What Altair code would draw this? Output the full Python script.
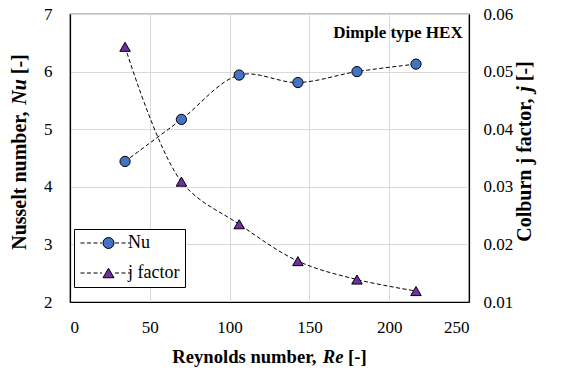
import altair as alt
import pandas as pd

# ---- data ----
re_vals = [34.5, 69.8, 106.0, 142.8, 179.8, 216.8]
nu_vals = [4.44, 5.17, 5.94, 5.81, 6.00, 6.13]
j_vals = [0.0543, 0.0309, 0.0235, 0.0171, 0.0139, 0.0119]
series_names = ["Nu", "j factor"]
series_colors = ["#4472C4", "#7030A0"]
x_ticks = [0, 50, 100, 150, 200, 250]
nu_ticks = [2, 3, 4, 5, 6, 7]
j_ticks = [0.01, 0.02, 0.03, 0.04, 0.05, 0.06]

# axis titles as (text, italic) pieces
x_title = [("Reynolds number,", False), ("Re", True), ("[-]", False)]
y_title = [("Nusselt number,", False), ("Nu", True), ("[-]", False)]
y2_title = [("Colburn j factor,", False), ("j", True), ("[-]", False)]
note_text = "Dimple type HEX"

df_nu = pd.DataFrame({"Re": re_vals, "Nu": nu_vals})
df_j = pd.DataFrame({"Re": re_vals, "j": j_vals})
df_leg = pd.DataFrame({"series": series_names})

FONT = "Liberation Serif"
W, H = 399, 288

# Times/Liberation Serif bold advance widths (per 1000 em)
BOLD = {" ": 250, ",": 250, "-": 333, "[": 333, "]": 333, "a": 500, "b": 556,
        "c": 444, "d": 556, "e": 444, "f": 333, "i": 278, "j": 333, "l": 278,
        "m": 833, "n": 556, "o": 500, "r": 444, "s": 389, "t": 333, "u": 556,
        "y": 500, "C": 722, "N": 722, "R": 722}
BOLD_IT = {"N": 722, "u": 556, "R": 667, "e": 444, "j": 278}


def text_w(s, italic, size):
    tbl = BOLD_IT if italic else BOLD
    return sum(tbl.get(ch, 500) for ch in s) / 1000 * size


def title_layers(pieces, size, fixed, center, vertical):
    """Build text marks for a multi-style title. For vertical titles the
    text runs upward (angle 270) and `fixed` is the baseline x."""
    space = BOLD[" "] / 1000 * size
    widths = [text_w(t, it, size) for t, it in pieces]
    total = sum(widths) + space * (len(pieces) - 1)
    pos = center + total / 2 if vertical else center - total / 2
    out = []
    for (t, it), w in zip(pieces, widths):
        df = pd.DataFrame({"t": [t]})
        kw = dict(font=FONT, fontSize=size, fontWeight="bold", color="black",
                  align="left", baseline="alphabetic")
        if it:
            kw["fontStyle"] = "italic"
        if vertical:
            kw["angle"] = 270
            enc = dict(x=alt.value(fixed), y=alt.value(pos))
            pos -= w + space
        else:
            enc = dict(x=alt.value(pos), y=alt.value(fixed))
            pos += w + space
        out.append(alt.Chart(df).mark_text(**kw).encode(text="t:N", **enc))
    return out


# ---- legend symbol paths: dashed line + marker (units: 5.5 px) ----
U = 5.5


def dashes(a, b, d=4.0, g=2.5):
    out = []
    p = a
    while p < b - 0.5:
        q = min(p + d, b)
        out.append(f"M{p / U:.3f},0H{q / U:.3f}")
        p = q + g
    return "".join(out)


cx = 20.5  # marker centre (px from symbol origin)
line_part = dashes(-7.5, cx - U - 1) + dashes(cx + U + 1, 42.5)
c = cx / U
circle_path = line_part + f"M{c + 1:.3f},0A1,1,0,1,1,{c - 1:.3f},0A1,1,0,1,1,{c + 1:.3f},0Z"
tri_path = line_part + f"M{c:.3f},-0.866L{c + 1:.3f},0.866L{c - 1:.3f},0.866Z"

x_enc = alt.X(
    "Re:Q",
    scale=alt.Scale(domain=[0, 250], nice=False),
    axis=alt.Axis(values=x_ticks, title=None, labelPadding=17, labelFont=FONT),
)

nu_line = alt.Chart(df_nu).mark_line(
    color="black", strokeWidth=1, strokeDash=[4, 2.5], interpolate="catmull-rom"
).encode(
    x=x_enc,
    y=alt.Y(
        "Nu:Q",
        scale=alt.Scale(domain=[2, 7], nice=False),
        axis=alt.Axis(values=nu_ticks, format="d", title=None, labelPadding=18,
                      labelFont=FONT, grid=True),
    ),
)
nu_pts = alt.Chart(df_nu).mark_point(
    shape="circle", filled=True, fill=series_colors[0], stroke="black",
    strokeWidth=1, size=105, opacity=1,
).encode(x="Re:Q", y="Nu:Q")

leg = alt.Legend(title=None, symbolOpacity=1)
legend_layer = alt.Chart(df_leg).mark_point(
    filled=True, strokeWidth=1, opacity=0
).encode(
    x=alt.value(0),
    y=alt.value(0),
    shape=alt.Shape("series:N",
                    scale=alt.Scale(domain=series_names, range=[circle_path, tri_path]),
                    legend=leg),
    fill=alt.Fill("series:N",
                  scale=alt.Scale(domain=series_names, range=series_colors),
                  legend=leg),
    stroke=alt.Stroke("series:N",
                      scale=alt.Scale(domain=series_names, range=["black", "black"]),
                      legend=leg),
)

note = alt.Chart(pd.DataFrame({"t": [note_text]})).mark_text(
    font=FONT, fontSize=17, fontWeight="bold", color="black",
    align="right", baseline="alphabetic",
).encode(text="t:N", x=alt.value(392.7), y=alt.value(23.5))

titles = (
    title_layers(x_title, 18.6, H + 60.7, W / 2, vertical=False)
    + title_layers(y_title, 20, -44.3, 138, vertical=True)
    + title_layers(y2_title, 20, 461, 137.5, vertical=True)
)

left = alt.layer(nu_line, nu_pts, legend_layer, note, *titles)

j_line = alt.Chart(df_j).mark_line(
    color="black", strokeWidth=1, strokeDash=[4, 2.5], interpolate="catmull-rom"
).encode(
    x="Re:Q",
    y=alt.Y(
        "j:Q",
        scale=alt.Scale(domain=[0.01, 0.06], nice=False),
        axis=alt.Axis(orient="right", values=j_ticks, format=".2f", title=None,
                      labelPadding=14, labelFont=FONT, grid=False),
    ),
)
j_pts = alt.Chart(df_j).mark_point(
    shape="triangle-up", filled=True, fill=series_colors[1], stroke="black",
    strokeWidth=1, size=110, opacity=1,
).encode(x="Re:Q", y="j:Q")

right = alt.layer(j_line, j_pts)

chart = (
    alt.layer(left, right)
    .resolve_scale(y="independent")
    .properties(
        width=W,
        height=H,
        padding={"left": 70, "top": 14, "right": 92, "bottom": 68},
        autosize=alt.AutoSizeParams(type="none"),
        background="white",
    )
    .configure_view(stroke="black", strokeWidth=1.2)
    .configure_axis(
        labelFont=FONT,
        labelFontSize=17,
        labelColor="black",
        ticks=False,
        domainColor="black",
        domainWidth=1.2,
        gridColor="#d9d9d9",
        gridWidth=1,
    )
    .configure_legend(
        orient="none",
        legendX=4,
        legendY=215,
        strokeColor="black",
        fillColor="white",
        padding=5,
        rowPadding=12,
        labelFont=FONT,
        labelFontSize=18,
        labelColor="black",
        labelOffset=31,
        symbolSize=121,
        symbolStrokeColor="black",
        symbolStrokeWidth=1,
    )
)

chart.save("out.html", embed_options={"renderer": "svg", "actions": False})
